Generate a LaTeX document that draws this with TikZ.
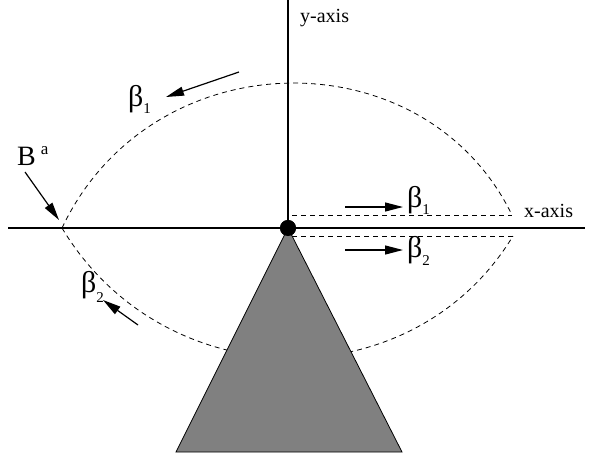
\documentclass[tikz,border=0pt]{standalone}
\usepackage{fontspec}
\setmainfont{Liberation Serif}
\usetikzlibrary{arrows.meta}
\tikzset{
  axisline/.style={line width=2pt},
  dashline/.style={line width=0.8pt, dash pattern=on 5pt off 4pt},
  arr/.style={line width=1.2pt, -{Triangle[length=18pt,width=9pt]}},
  axlabel/.style={font=\fontsize{20}{20}\selectfont, inner sep=0pt, anchor=base west},
  glabel/.style={font=\fontsize{30}{30}\selectfont, inner sep=0pt, anchor=base west},
}
\newcommand{\lowsub}[2]{\raisebox{-#2}{\fontsize{15}{15}\selectfont #1}}
\begin{document}
\begin{tikzpicture}[x=1pt,y=-1pt]
\useasboundingbox (0,0) rectangle (590,456);
% coordinates
\coordinate (ytop) at (288,0);
\coordinate (xl) at (8,228);
\coordinate (xr) at (585,228);
\coordinate (Bpt) at (62,228);
\coordinate (ur) at (512,215);
\coordinate (lr) at (513,236);
\coordinate (ul) at (292,215);
\coordinate (ll) at (292,236);
\coordinate (tl) at (176,452);
\coordinate (tr) at (402,452);
% dashed arcs
\draw[dashline] (Bpt) .. controls (151.5,39) and (424,35) .. (ur);
\draw[dashline] (Bpt) .. controls (164,398) and (412,402) .. (lr);
\draw[dashline] (ul) -- (ur);
\draw[dashline] (ll) -- (lr);
% triangle
\node[circle, fill=black, inner sep=0pt, minimum size=16pt] (o) at (288,228) {};
\draw[line width=0.8pt, fill=black!50] (o.center) -- (tr) -- (tl) -- cycle;
% axes
\draw[axisline] (ytop) -- (o.center);
\draw[axisline] (xl) -- (xr);
\node[circle, fill=black, inner sep=0pt, minimum size=16pt] at (o) {};
% labels
\node[axlabel] (ylab) at (300,22) {y-axis};
\node[axlabel] (xlab) at (524,217) {x-axis};
\node[glabel] (b1a) at (128,106) {β\lowsub{1}{7pt}};
\node[glabel] (b1b) at (407,207) {β\lowsub{1}{7pt}};
\node[glabel] (b2b) at (407,257) {β\lowsub{2}{8pt}};
\node[glabel] (b2a) at (81,292) {β\lowsub{2}{10pt}};
\node[font=\fontsize{28}{28}\selectfont, inner sep=0pt, anchor=base west] (Ba) at (17,165) {B\hspace{5pt}\raisebox{11pt}{\fontsize{17}{17}\selectfont a}};
% arrows
\coordinate (a1s) at (239,72);  \coordinate (a1e) at (166,97);
\coordinate (aBs) at (25,172);  \coordinate (aBe) at (59,220);
\coordinate (a2s) at (138,325); \coordinate (a2e) at (103,300);
\coordinate (r1s) at (345,207); \coordinate (r1e) at (403,207);
\coordinate (r2s) at (345,250); \coordinate (r2e) at (403,250);
\draw[arr] (a1s) -- (a1e);
\draw[arr] (aBs) -- (aBe);
\draw[arr] (a2s) -- (a2e);
\draw[arr] (r1s) -- (r1e);
\draw[arr] (r2s) -- (r2e);
\end{tikzpicture}
\end{document}
